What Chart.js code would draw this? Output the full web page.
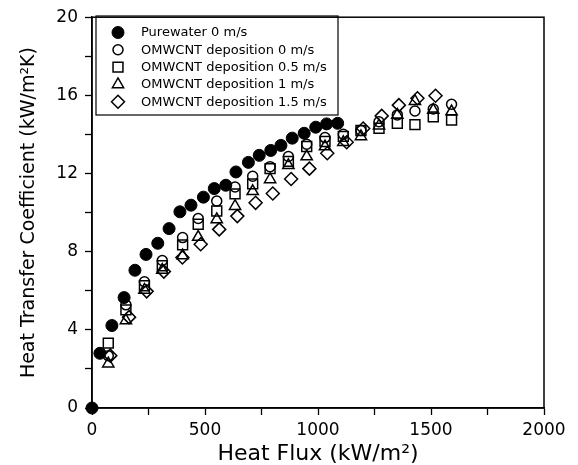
<!DOCTYPE html>
<html>
<head>
<meta charset="utf-8">
<script src="https://cdn.jsdelivr.net/npm/chart.js@4/dist/chart.umd.min.js"></script>
<style>
  html, body { margin: 0; padding: 0; background: #fff; }
  #wrap { width: 578px; height: 465px; position: relative; }
</style>
</head>
<body>
<div id="wrap"><canvas id="htc"></canvas></div>
<script>
// heat flux (kW/m2) and heat transfer coefficient (kW/m2K)
const pureFlux = [0, 35, 88, 142, 190, 239, 291, 341, 389, 438, 493, 541, 592, 637, 692, 740, 791, 836, 886, 939, 990, 1038, 1087];
const pureHTC = [0, 2.8, 4.22, 5.65, 7.05, 7.86, 8.43, 9.18, 10.04, 10.38, 10.79, 11.23, 11.4, 12.08, 12.57, 12.93, 13.18, 13.44, 13.81, 14.06, 14.37, 14.54, 14.57];

const depFlux = [72, 150, 232, 311, 401, 470, 552, 633, 711, 788, 869, 950, 1031, 1112, 1190, 1270, 1351, 1429, 1510, 1591];
const dep0HTC = [2.68, 5.28, 6.46, 7.55, 8.72, 9.7, 10.59, 11.31, 11.86, 12.35, 12.87, 13.5, 13.84, 14.01, 14.2, 14.65, 15.0, 15.2, 15.3, 15.54];
const dep05HTC = [3.32, 5.02, 6.26, 7.28, 8.35, 9.4, 10.08, 10.96, 11.47, 12.25, 12.62, 13.38, 13.64, 13.9, 14.2, 14.32, 14.57, 14.5, 14.9, 14.74];
const dep1HTC = [2.27, 4.48, 6.04, 7.06, 7.8, 8.75, 9.65, 10.33, 11.09, 11.7, 12.42, 12.87, 13.38, 13.6, 13.9, 14.45, 15.0, 15.7, 15.25, 15.17];

const diamondFlux = [81, 164, 242, 318, 400, 481, 563, 643, 724, 800, 881, 962, 1041, 1127, 1200, 1282, 1358, 1440, 1520];
const dep15HTC = [2.68, 4.65, 5.97, 6.98, 7.7, 8.38, 9.14, 9.82, 10.5, 10.98, 11.72, 12.25, 13.04, 13.6, 14.3, 14.95, 15.5, 15.85, 15.98];

const seriesNames = [
  'Purewater 0 m/s',
  'OMWCNT deposition 0 m/s',
  'OMWCNT deposition 0.5 m/s',
  'OMWCNT deposition 1 m/s',
  'OMWCNT deposition 1.5 m/s',
];

const xTicks = [0, 500, 1000, 1500, 2000];
const yTicks = [0, 4, 8, 12, 16, 20];

const pts = (xs, ys) => xs.map((x, i) => ({ x, y: ys[i] }));
const hollow = 'rgba(0,0,0,0)';

Chart.defaults.font.family = '"DejaVu Sans", sans-serif';
Chart.defaults.color = '#000';

// full box round the plot + boxed legend in the upper left
const frameAndLegend = {
  id: 'frameAndLegend',
  afterDraw(chart) {
    const { ctx, chartArea: a } = chart;
    ctx.save();
    ctx.strokeStyle = '#000';
    ctx.lineWidth = 1.5;
    ctx.strokeRect(a.left, a.top, a.right - a.left, a.bottom - a.top);

    ctx.lineWidth = 1.2;
    ctx.strokeRect(96, 16, 242, 99);
    ctx.font = '13px "DejaVu Sans"';
    ctx.textBaseline = 'middle';
    chart.data.datasets.forEach((ds, i) => {
      const y = 32.5 + i * 17.3;
      ctx.fillStyle = ds.backgroundColor;
      ctx.strokeStyle = ds.borderColor;
      ctx.lineWidth = ds.borderWidth;
      Chart.helpers.drawPoint(ctx, { pointStyle: ds.pointStyle, radius: ds.pointRadius, borderWidth: ds.borderWidth }, 118, y);
      ctx.fillStyle = '#000';
      ctx.fillText(ds.label, 141, y + 0.5);
    });
    ctx.restore();
  },
};

new Chart(document.getElementById('htc'), {
  type: 'scatter',
  data: {
    datasets: [
      { label: seriesNames[0], data: pts(pureFlux, pureHTC), pointStyle: 'circle', pointRadius: 6, backgroundColor: '#000', borderColor: '#000', borderWidth: 1 },
      { label: seriesNames[1], data: pts(depFlux, dep0HTC), pointStyle: 'circle', pointRadius: 5, backgroundColor: hollow, borderColor: '#000', borderWidth: 1.5 },
      { label: seriesNames[2], data: pts(depFlux, dep05HTC), pointStyle: 'rect', pointRadius: 7, backgroundColor: hollow, borderColor: '#000', borderWidth: 1.5 },
      { label: seriesNames[3], data: pts(depFlux, dep1HTC), pointStyle: 'triangle', pointRadius: 6.5, backgroundColor: hollow, borderColor: '#000', borderWidth: 1.5 },
      { label: seriesNames[4], data: pts(diamondFlux, dep15HTC), pointStyle: 'rectRot', pointRadius: 6.5, backgroundColor: hollow, borderColor: '#000', borderWidth: 1.5 },
    ],
  },
  options: {
    responsive: true,
    maintainAspectRatio: false,
    animation: false,
    events: [],
    clip: false,
    layout: { padding: { left: 0, right: 34, top: 15, bottom: 0 } },
    plugins: { legend: { display: false }, tooltip: { enabled: false } },
    scales: {
      x: {
        type: 'linear',
        min: 0,
        max: 2000,
        afterFit: s => { s.height = 57; },
        border: { display: true, color: '#000', width: 1.5 },
        grid: { drawOnChartArea: false, drawTicks: true, tickLength: 7, tickWidth: 1.3, tickColor: '#000' },
        ticks: {
          stepSize: 250,
          autoSkip: false,
          maxRotation: 0,
          padding: 5,
          font: { size: 17, lineHeight: 1.2 },
          callback: v => (xTicks.includes(v) ? v : ''),
        },
        title: { display: true, text: 'Heat Flux (kW/m²)', font: { size: 22, lineHeight: 1 }, padding: { top: 0, bottom: 0 } },
      },
      y: {
        type: 'linear',
        min: 0,
        max: 20,
        afterFit: s => { s.width = 92; },
        border: { display: true, color: '#000', width: 1.5 },
        grid: { drawOnChartArea: false, drawTicks: true, tickLength: 7, tickWidth: 1.3, tickColor: '#000' },
        ticks: {
          stepSize: 2,
          autoSkip: false,
          padding: 7,
          font: { size: 17 },
          callback: v => (yTicks.includes(v) ? v : ''),
        },
        title: { display: true, text: 'Heat Transfer Coefficient (kW/m²K)', font: { size: 19, lineHeight: 1 }, padding: { top: 20, bottom: 0 } },
      },
    },
  },
  plugins: [frameAndLegend],
});
</script>
</body>
</html>
